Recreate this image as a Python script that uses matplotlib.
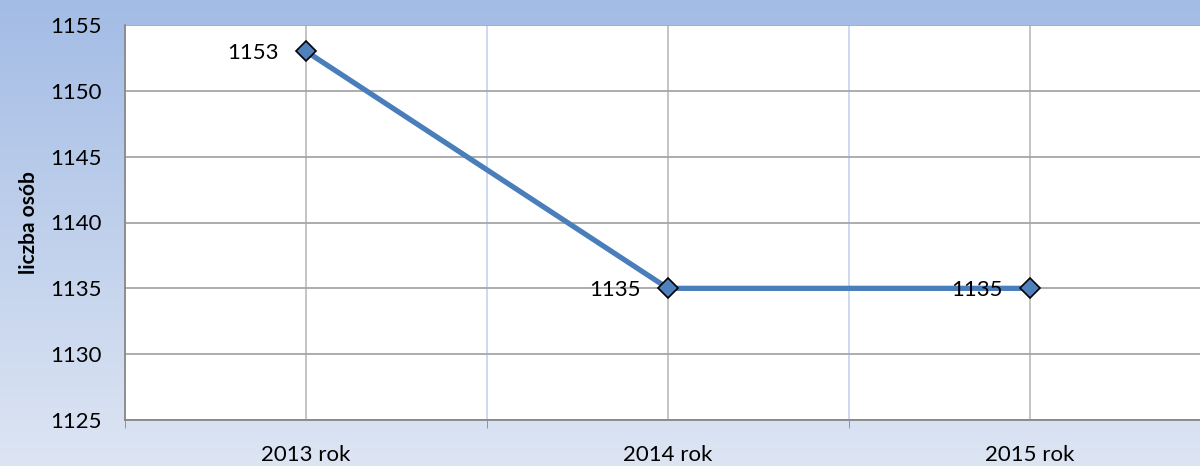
import matplotlib.pyplot as plt
import numpy as np
from matplotlib.colors import LinearSegmentedColormap

years = ['2013 rok', '2014 rok', '2015 rok']
values = [1153, 1135, 1135]
y_ticks = [1125, 1130, 1135, 1140, 1145, 1150, 1155]

plt.rcParams['font.family'] = ['Lato', 'DejaVu Sans']

fig = plt.figure(figsize=(12, 4.66), dpi=100)

# tło z gradientem (góra ciemniejsza)
bg = fig.add_axes([0, 0, 1, 1], zorder=0)
grad = np.linspace(0, 1, 256).reshape(-1, 1)
cmap = LinearSegmentedColormap.from_list('bg', ['#A3BCE5', '#DDE5F3'])
bg.imshow(grad, aspect='auto', cmap=cmap, extent=[0, 1, 0, 1])
bg.axis('off')

W, H = 1200, 466
left, right, top, bottom = 125, 1211, 25, 420
ax = fig.add_axes([left / W, 1 - bottom / H, (right - left) / W, (bottom - top) / H], zorder=1)
ax.set_facecolor('white')

x = np.arange(len(years))
ax.set_xlim(-0.5, len(years) - 0.5)
ax.set_ylim(1125, 1155)
ax.set_yticks(y_ticks)
ax.set_yticklabels([str(t) for t in y_ticks], fontsize=16)

# kategorie na środku, kreski na granicach
ax.set_xticks(x)
ax.set_xticklabels(years, fontsize=16)
ax.set_xticks(np.arange(-0.5, len(years), 1), minor=True)
ax.tick_params(axis='x', which='major', length=0, pad=18)
ax.tick_params(axis='x', which='minor', length=6, color='#888888')
ax.tick_params(axis='y', length=0, pad=17)

ax.grid(axis='y', color='#A6A6A6', linewidth=1.3)
ax.grid(axis='x', which='major', color='#BFBFBF', linewidth=1.3)
ax.grid(axis='x', which='minor', color='#C9D7EE', linewidth=1.3)
ax.set_axisbelow(True)

for s in ['top', 'right']:
    ax.spines[s].set_visible(False)
for s in ['left', 'bottom']:
    ax.spines[s].set_color('#888888')
    ax.spines[s].set_linewidth(1.3)

ax.plot(x, values, color='#4A7EBB', linewidth=3.8, marker='D', markersize=10,
        markerfacecolor='#4F81BD', markeredgecolor='black', markeredgewidth=1.2, zorder=3)

for xi, v in zip(x, values):
    ax.annotate(str(v), (xi, v), xytext=(-20, -1.5), textcoords='offset points',
                ha='right', va='center', fontsize=16, zorder=4)

ax.set_ylabel('liczba osób', fontsize=15, fontweight='bold', labelpad=8)

fig.savefig('out.png', dpi=100)
